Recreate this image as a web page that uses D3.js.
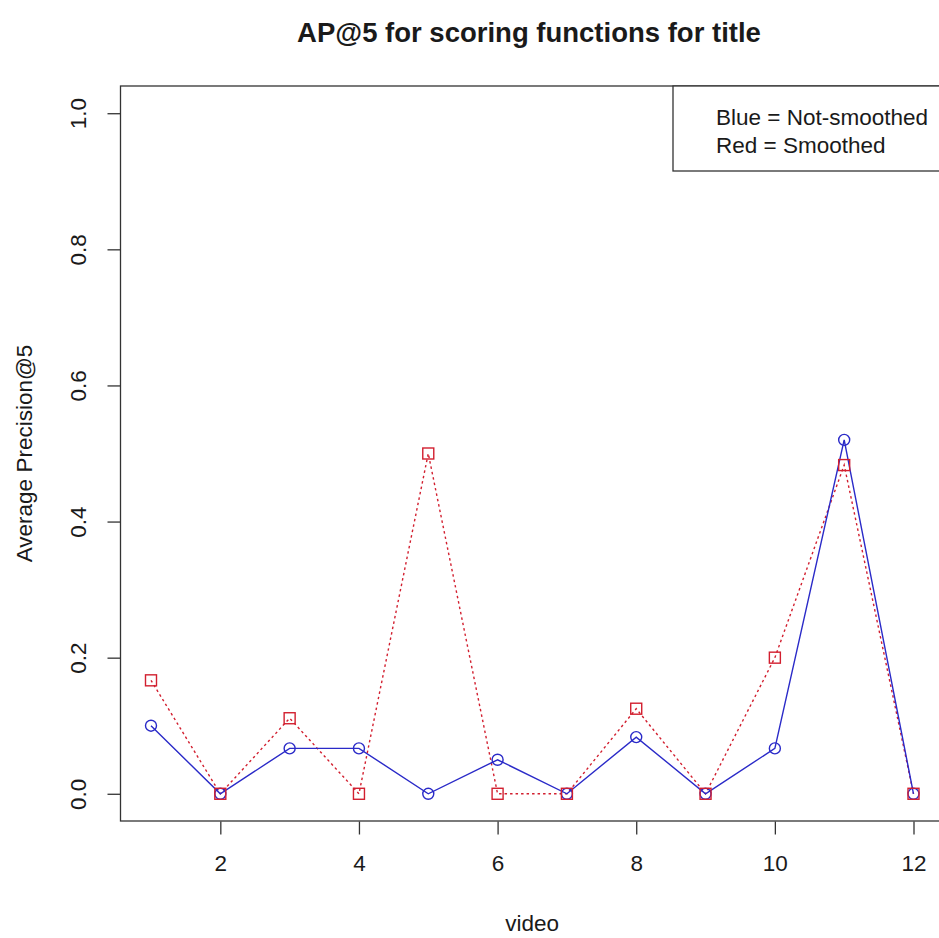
<!DOCTYPE html>
<html><head><meta charset="utf-8">
<script src="https://cdn.jsdelivr.net/npm/d3@7"></script>
<style>html,body{margin:0;padding:0;background:#fff;} text{font-family:"Liberation Sans",Arial,sans-serif;fill:#1a1a1a;}</style>
</head><body>
<script>
const videos = [1,2,3,4,5,6,7,8,9,10,11,12];
const notSmoothed = [0.1, 0, 0.0667, 0.0667, 0, 0.05, 0, 0.0833, 0, 0.0667, 0.52, 0];
const smoothed = [0.1667, 0, 0.111, 0, 0.5, 0, 0, 0.125, 0, 0.2, 0.483, 0];
const xTicks = [2,4,6,8,10,12];
const yTicks = [0, 0.2, 0.4, 0.6, 0.8, 1.0];
const title = "AP@5 for scoring functions for title";
const legendLines = ["Blue = Not-smoothed", "Red = Smoothed"];

const W = 939, H = 938;
const pL = 120.5, pR = 944, pT = 86, pB = 821;
const FS = 22.5;
const svg = d3.select("body").append("svg").attr("width", W).attr("height", H);
svg.append("rect").attr("width", W).attr("height", H).attr("fill", "#fff");

const x = d3.scaleLinear().domain([0.56, 12.44]).range([pL, pR]);
const y = d3.scaleLinear().domain([-0.04, 1.04]).range([pB, pT]);

// plot box
svg.append("rect").attr("x", pL).attr("y", pT).attr("width", pR-pL).attr("height", pB-pT)
  .attr("fill", "none").attr("stroke", "#333").attr("stroke-width", 1.3);

// axes
const xAxis = d3.axisBottom(x).tickValues(xTicks).tickFormat(d3.format("d")).tickSize(13).tickPadding(21);
const gx = svg.append("g").attr("transform", `translate(0,${pB+0.5})`).call(xAxis);
gx.select(".domain").remove();
gx.selectAll("line").attr("stroke", "#333").attr("stroke-width", 1.3);
gx.selectAll("text").attr("font-size", FS).style("font-family", "'Liberation Sans',Arial,sans-serif").attr("fill", "#1a1a1a");

const yAxis = d3.axisLeft(y).tickValues(yTicks).tickFormat(d3.format(".1f")).tickSize(13);
const gy = svg.append("g").attr("transform", `translate(${pL},0)`).call(yAxis);
gy.select(".domain").remove();
gy.selectAll("line").attr("stroke", "#333").attr("stroke-width", 1.3);
gy.selectAll("text").remove();
gy.selectAll(".tick").append("text")
  .attr("transform", "translate(-42.5,0) rotate(-90)")
  .attr("text-anchor", "middle").attr("dy", "0.35em")
  .attr("font-size", FS).style("font-family", "'Liberation Sans',Arial,sans-serif").attr("fill", "#1a1a1a")
  .text(d => d3.format(".1f")(d));

// titles
svg.append("text").attr("x", 529).attr("y", 42).attr("text-anchor", "middle")
  .attr("font-size", 27.5).attr("font-weight", "bold").text(title);
svg.append("text").attr("x", (pL+pR)/2).attr("y", 931).attr("text-anchor", "middle")
  .attr("font-size", FS).text("video");
svg.append("text").attr("transform", `translate(32,${(pT+pB)/2}) rotate(-90)`).attr("text-anchor", "middle")
  .attr("font-size", FS).text("Average Precision@5");

svg.append("defs").append("clipPath").attr("id", "c").append("rect")
  .attr("x", pL).attr("y", pT).attr("width", pR-pL).attr("height", pB-pT);
const plot = svg.append("g").attr("clip-path", "url(#c)");

const line = d3.line().x((d,i) => x(videos[i])).y(d => y(d));
const blue = "#2a2ac8", red = "#d21f2f";

plot.append("path").datum(smoothed).attr("d", line).attr("fill", "none")
  .attr("stroke", red).attr("stroke-width", 1.4).attr("stroke-dasharray", "2.5,3");
plot.append("path").datum(notSmoothed).attr("d", line).attr("fill", "none")
  .attr("stroke", blue).attr("stroke-width", 1.4);

plot.selectAll(".circ").data(notSmoothed).enter().append("circle")
  .attr("cx", (d,i) => x(videos[i])).attr("cy", d => y(d)).attr("r", 5.5)
  .attr("fill", "none").attr("stroke", blue).attr("stroke-width", 1.4);
plot.selectAll(".sq").data(smoothed).enter().append("rect")
  .attr("x", (d,i) => x(videos[i]) - 5.5).attr("y", d => y(d) - 5.5).attr("width", 11).attr("height", 11)
  .attr("fill", "none").attr("stroke", red).attr("stroke-width", 1.4);

// legend
const lg = svg.append("g");
lg.append("rect").attr("x", 673).attr("y", pT).attr("width", 300).attr("height", 85)
  .attr("fill", "#fff").attr("stroke", "#333").attr("stroke-width", 1.3);
lg.selectAll("text").data(legendLines).enter().append("text")
  .attr("x", 716).attr("y", (d,i) => 125 + i*27.5).attr("font-size", FS).text(d => d);
</script>
</body></html>
